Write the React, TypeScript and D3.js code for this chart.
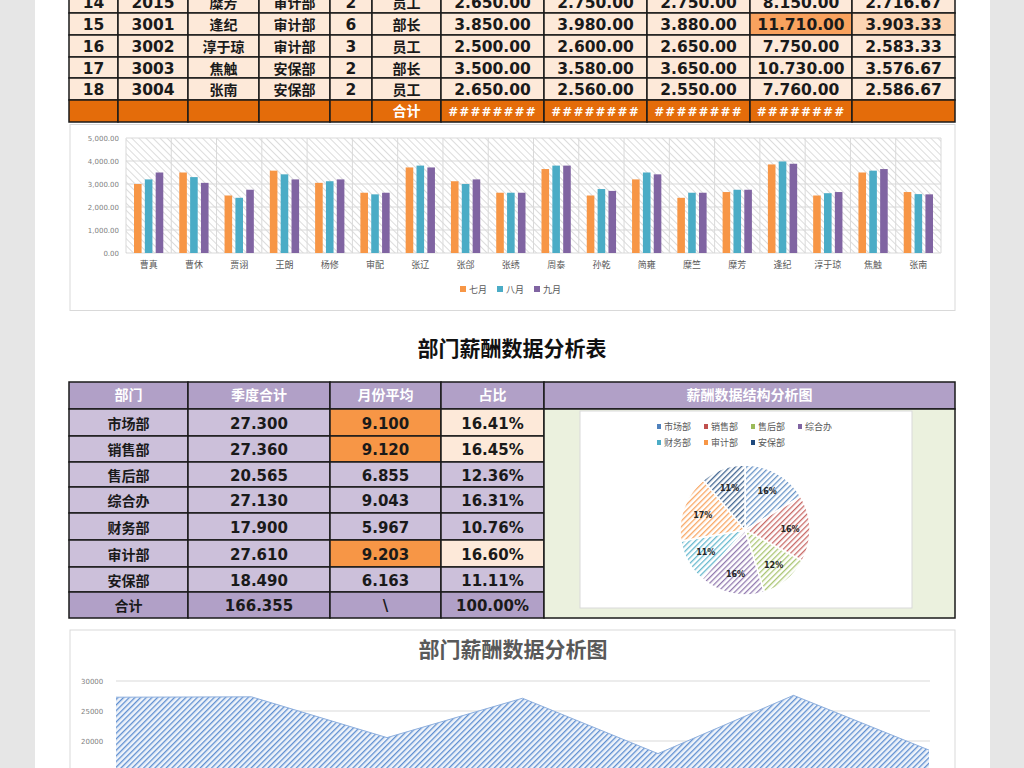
import React from "react";
import * as d3 from "d3";

// top table (rows 14-18 visible) + bar chart data
const employeeNames = ["曹真", "曹休", "贾诩", "王朗", "杨修", "审配", "张辽", "张郃", "张绣", "周泰", "孙乾", "简雍", "糜竺", "糜芳", "逢纪", "淳于琼", "焦触", "张南"];
const julPay = [3000, 3500, 2500, 3580, 3050, 2620, 3720, 3120, 2620, 3650, 2500, 3200, 2400, 2650, 3850, 2500, 3500, 2650];
const augPay = [3200, 3300, 2400, 3420, 3120, 2550, 3800, 3000, 2620, 3800, 2780, 3500, 2620, 2750, 3980, 2600, 3580, 2560];
const sepPay = [3500, 3050, 2750, 3200, 3200, 2620, 3720, 3200, 2620, 3800, 2700, 3420, 2620, 2750, 3880, 2650, 3650, 2550];
const monthKeys = ["七月", "八月", "九月"];
const monthColors = ["#f79646", "#4bacc6", "#8064a2"];
const barTicks = [0, 1000, 2000, 3000, 4000, 5000];

const rowNos = [14, 15, 16, 17, 18];
const rowIds = ["2015", "3001", "3002", "3003", "3004"];
const rowDepts = ["审计部", "审计部", "审计部", "安保部", "安保部"];
const rowLevels = [2, 6, 3, 2, 2];
const rowPositions = ["员工", "部长", "员工", "部长", "员工"];

// department table + pie + area
const depts = ["市场部", "销售部", "售后部", "综合办", "财务部", "审计部", "安保部"];
const quarterTotals = [27300, 27360, 20565, 27130, 17900, 27610, 18490];
const topAvgDepts = ["市场部", "销售部", "审计部"];
const pieColors = ["#4f81bd", "#c0504d", "#9bbb59", "#8064a2", "#4bacc6", "#f79646", "#1f497d"];
const areaTicks = [20000, 25000, 30000];

const NUM = "'DejaVu Sans', 'Noto Sans CJK SC', sans-serif";
const CJK = "'Noto Sans CJK SC', sans-serif";

const f2 = (v: number) => d3.format(",.2f")(v).replace(/,/g, ".");
const f0 = (v: number) => d3.format(",.0f")(v).replace(/,/g, ".");

function TopTable() {
  const cols = [69, 118, 188, 259, 330, 372, 441, 544, 647, 750, 852, 955];
  const rowY = [-9, 13, 35, 57, 78, 100, 122];
  const start = employeeNames.length - rowNos.length;
  const cells: JSX.Element[] = [];
  rowNos.forEach((no, i) => {
    const k = start + i;
    const sum = julPay[k] + augPay[k] + sepPay[k];
    const avg = sum / 3;
    const hi = sum > 11000;
    const vals = [String(no), rowIds[i], employeeNames[k], rowDepts[i], String(rowLevels[i]), rowPositions[i],
      f2(julPay[k]), f2(augPay[k]), f2(sepPay[k]), f2(sum), f2(avg)];
    vals.forEach((v, c) => {
      let fill = "#fde9d9";
      if (hi && c === 9) fill = "#f9a25e";
      if (hi && c === 10) fill = "#fcd5b4";
      const cjk = c >= 2 && c <= 5 && c !== 4;
      cells.push(
        <g key={`r${i}c${c}`}>
          <rect x={cols[c]} y={rowY[i]} width={cols[c + 1] - cols[c]} height={rowY[i + 1] - rowY[i]} fill={fill} stroke="#1a1a1a" strokeWidth={1.5} />
          <text x={(cols[c] + cols[c + 1]) / 2} y={(rowY[i] + rowY[i + 1]) / 2 + 6} textAnchor="middle"
            fontFamily={cjk ? CJK : NUM} fontWeight={700} fontSize={cjk ? 14 : 15.5} fill="#1a1a1a">{v}</text>
        </g>
      );
    });
  });
  const ty = rowY[5];
  const totals = ["", "", "", "", "", "合计", "########", "########", "########", "########", ""];
  totals.forEach((v, c) => {
    cells.push(
      <g key={`t${c}`}>
        <rect x={cols[c]} y={ty} width={cols[c + 1] - cols[c]} height={rowY[6] - ty} fill="#e46c0a" stroke="#1a1a1a" strokeWidth={1.5} />
        <text x={(cols[c] + cols[c + 1]) / 2} y={ty + 16} textAnchor="middle" fontFamily={c === 5 ? CJK : NUM}
          fontWeight={700} fontSize={c === 5 ? 14 : 12} letterSpacing={c === 5 ? 0 : 1} fill="#ffffff">{v}</text>
      </g>
    );
  });
  return <g>{cells}</g>;
}

function BarChart() {
  const x0 = d3.scaleBand<string>().domain(employeeNames).range([126, 941]);
  const bw = x0.bandwidth();
  const x1 = d3.scaleBand<string>().domain(monthKeys).range([8, bw - 8]).paddingInner(0.3);
  const y = d3.scaleLinear().domain([0, 5000]).range([253, 138]);
  const series = [julPay, augPay, sepPay];
  return (
    <g>
      <rect x={70} y={124.5} width={885} height={186} fill="#ffffff" stroke="#d9d9d9" />
      <rect x={126} y={y(5000)} width={815} height={y(0) - y(5000)} fill="url(#greyHatch)" />
      {barTicks.map((t) => (
        <g key={t}>
          <line x1={126} x2={941} y1={y(t)} y2={y(t)} stroke="#d9d9d9" />
          <text x={119} y={y(t) + 2.5} textAnchor="end" fontFamily={NUM} fontSize={7} fill="#7f7f7f">{d3.format(",.2f")(t)}</text>
        </g>
      ))}
      {[...employeeNames.map((n) => x0(n)!), 941].map((xv, i) => (
        <line key={i} x1={xv} x2={xv} y1={y(5000)} y2={y(0)} stroke="#d9d9d9" />
      ))}
      {employeeNames.map((n, i) => (
        <g key={n}>
          {series.map((s, j) => (
            <rect key={j} x={x0(n)! + x1(monthKeys[j])!} y={y(s[i])} width={x1.bandwidth()} height={y(0) - y(s[i])} fill={monthColors[j]} />
          ))}
          <text x={x0(n)! + bw / 2} y={268} textAnchor="middle" fontFamily={CJK} fontSize={9} fill="#595959">{n}</text>
        </g>
      ))}
      {monthKeys.map((m, j) => (
        <g key={m} transform={`translate(${460 + j * 37},286)`}>
          <rect x={0} y={0} width={6} height={6} fill={monthColors[j]} />
          <text x={9} y={6.5} fontFamily={CJK} fontSize={9} fill="#595959">{m}</text>
        </g>
      ))}
    </g>
  );
}

function DeptTable() {
  const cols = [69, 188, 330, 441, 544, 955];
  const rowY = [382, 409, 436, 462, 487, 513, 540, 567, 592, 618];
  const grand = d3.sum(quarterTotals);
  const els: JSX.Element[] = [];
  const header = ["部门", "季度合计", "月份平均", "占比", "薪酬数据结构分析图"];
  header.forEach((h, c) => {
    els.push(
      <g key={`h${c}`}>
        <rect x={cols[c]} y={rowY[0]} width={cols[c + 1] - cols[c]} height={rowY[1] - rowY[0]} fill="#b1a0c7" stroke="#1a1a1a" strokeWidth={1.5} />
        <text x={(cols[c] + cols[c + 1]) / 2} y={rowY[0] + 18} textAnchor="middle" fontFamily={CJK} fontWeight={700} fontSize={14} fill="#ffffff">{h}</text>
      </g>
    );
  });
  depts.forEach((d, i) => {
    const hi = topAvgDepts.includes(d);
    const vals = [d, f0(quarterTotals[i]), f0(quarterTotals[i] / 3), d3.format(".2%")(quarterTotals[i] / grand)];
    vals.forEach((v, c) => {
      let fill = "#ccc0da";
      if (hi && c === 2) fill = "#f79646";
      if (hi && c === 3) fill = "#fde9d9";
      els.push(
        <g key={`d${i}c${c}`}>
          <rect x={cols[c]} y={rowY[i + 1]} width={cols[c + 1] - cols[c]} height={rowY[i + 2] - rowY[i + 1]} fill={fill} stroke="#1a1a1a" strokeWidth={1.5} />
          <text x={(cols[c] + cols[c + 1]) / 2} y={(rowY[i + 1] + rowY[i + 2]) / 2 + 6} textAnchor="middle"
            fontFamily={c === 0 ? CJK : NUM} fontWeight={700} fontSize={c === 0 ? 14 : 15} fill="#1a1a1a">{v}</text>
        </g>
      );
    });
  });
  const tv = ["合计", f0(grand), "\\", "100.00%"];
  tv.forEach((v, c) => {
    els.push(
      <g key={`t${c}`}>
        <rect x={cols[c]} y={rowY[8]} width={cols[c + 1] - cols[c]} height={rowY[9] - rowY[8]} fill="#b1a0c7" stroke="#1a1a1a" strokeWidth={1.5} />
        <text x={(cols[c] + cols[c + 1]) / 2} y={rowY[8] + 19} textAnchor="middle" fontFamily={c === 0 ? CJK : NUM}
          fontWeight={700} fontSize={c === 0 ? 14 : 15} fill="#1a1a1a">{v}</text>
      </g>
    );
  });
  return <g>{els}</g>;
}

function PieChart() {
  const pie = d3.pie<number>().sort(null)(quarterTotals);
  const arc = d3.arc<d3.PieArcDatum<number>>().innerRadius(0).outerRadius(65);
  const labelArc = d3.arc<d3.PieArcDatum<number>>().innerRadius(45).outerRadius(45);
  const grand = d3.sum(quarterTotals);
  return (
    <g>
      <rect x={544} y={409} width={411} height={209} fill="#ebf1de" stroke="#1a1a1a" strokeWidth={1.5} />
      <rect x={580} y={411} width={332} height={197} fill="#ffffff" stroke="#d9d9d9" />
      {depts.map((d, i) => (
        <g key={d} transform={`translate(${657 + (i % 4) * 47},${i < 4 ? 423 : 439})`}>
          <rect x={0} y={1} width={4} height={5} fill={pieColors[i]} />
          <text x={7} y={7} fontFamily={CJK} fontSize={9} fill="#595959">{d}</text>
        </g>
      ))}
      <g transform="translate(745,530)">
        {pie.map((p, i) => (
          <path key={i} d={arc(p)!} fill={`url(#pieHatch${i})`} stroke="#ffffff" strokeWidth={1.5} />
        ))}
        {pie.map((p, i) => {
          const [lx, ly] = labelArc.centroid(p);
          return (
            <text key={`l${i}`} x={lx} y={ly + 3} textAnchor="middle" fontFamily={NUM} fontWeight={700} fontSize={8} fill="#262626">
              {d3.format(".0%")(quarterTotals[i] / grand)}
            </text>
          );
        })}
      </g>
    </g>
  );
}

function AreaChart() {
  const x = d3.scalePoint<string>().domain(depts).range([116, 929]);
  const y = d3.scaleLinear().domain([0, 30000]).range([861, 681]);
  const area = d3.area<number>().x((_, i) => x(depts[i])!).y0(y(0)).y1((v) => y(v));
  const line = d3.line<number>().x((_, i) => x(depts[i])!).y((v) => y(v));
  return (
    <g>
      <rect x={70} y={630} width={885} height={160} fill="#ffffff" stroke="#d9d9d9" />
      <text x={513} y={657} textAnchor="middle" fontFamily={CJK} fontWeight={700} fontSize={21} fill="#595959">部门薪酬数据分析图</text>
      {areaTicks.map((t) => (
        <g key={t}>
          <line x1={116} x2={930} y1={y(t)} y2={y(t)} stroke="#d9d9d9" />
          <text x={81} y={y(t) + 2.5} fontFamily={NUM} fontSize={7} fill="#7f7f7f">{t}</text>
        </g>
      ))}
      <path d={area(quarterTotals)!} fill="url(#blueHatch)" />
      <path d={line(quarterTotals)!} fill="none" stroke="#8fb0de" strokeWidth={1} />
    </g>
  );
}

export default function App() {
  return (
    <svg width={1024} height={768} style={{ position: "absolute", left: 0, top: 0 }}>
      <defs>
        <pattern id="greyHatch" width={5} height={5} patternUnits="userSpaceOnUse" patternTransform="rotate(-45)">
          <rect width={5} height={5} fill="#ffffff" />
          <line x1={0} y1={0} x2={0} y2={5} stroke="#d4d4d4" strokeWidth={1.6} />
        </pattern>
        <pattern id="blueHatch" width={4} height={4} patternUnits="userSpaceOnUse" patternTransform="rotate(45)">
          <rect width={4} height={4} fill="#eef3fa" />
          <line x1={0} y1={0} x2={0} y2={4} stroke="#5f8fd1" strokeWidth={2.6} />
        </pattern>
        {pieColors.map((c, i) => (
          <pattern key={c} id={`pieHatch${i}`} width={4} height={4} patternUnits="userSpaceOnUse" patternTransform="rotate(45)">
            <rect width={4} height={4} fill="#ffffff" />
            <line x1={0} y1={0} x2={0} y2={4} stroke={c} strokeOpacity={0.85} strokeWidth={2.6} />
          </pattern>
        ))}
      </defs>
      <rect x={0} y={0} width={1024} height={768} fill="#ffffff" />
      <rect x={0} y={0} width={35} height={768} fill="#e6e6e6" />
      <rect x={990} y={0} width={34} height={768} fill="#e6e6e6" />
      <TopTable />
      <BarChart />
      <text x={512} y={356} textAnchor="middle" fontFamily={CJK} fontWeight={700} fontSize={21} fill="#111111">部门薪酬数据分析表</text>
      <DeptTable />
      <PieChart />
      <AreaChart />
    </svg>
  );
}
